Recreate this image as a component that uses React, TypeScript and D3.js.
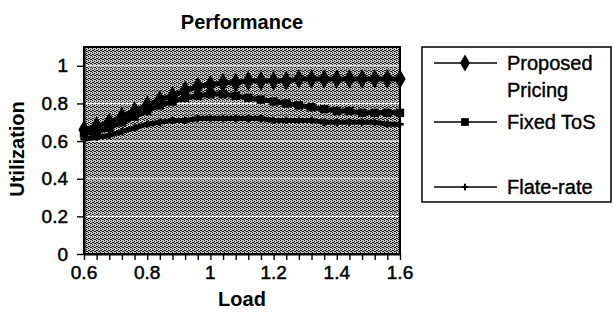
import React, { useRef, useEffect } from "react";
import * as d3 from "d3";

// loads on the category axis (every 0.04)
const loads = [
  0.6, 0.64, 0.68, 0.72, 0.76, 0.8, 0.84, 0.88, 0.92, 0.96, 1.0, 1.04, 1.08,
  1.12, 1.16, 1.2, 1.24, 1.28, 1.32, 1.36, 1.4, 1.44, 1.48, 1.52, 1.56, 1.6,
];
const proposedPricing = [
  0.66, 0.68, 0.7, 0.73, 0.76, 0.79, 0.82, 0.84, 0.87, 0.89, 0.9, 0.91, 0.91,
  0.92, 0.92, 0.92, 0.92, 0.93, 0.93, 0.93, 0.93, 0.93, 0.93, 0.93, 0.93, 0.93,
];
const fixedToS = [
  0.64, 0.65, 0.67, 0.7, 0.73, 0.76, 0.79, 0.81, 0.83, 0.84, 0.85, 0.85, 0.84,
  0.83, 0.82, 0.81, 0.8, 0.79, 0.78, 0.77, 0.76, 0.76, 0.75, 0.75, 0.75, 0.75,
];
const flateRate = [
  0.61, 0.62, 0.63, 0.65, 0.67, 0.69, 0.7, 0.71, 0.71, 0.72, 0.72, 0.72, 0.72,
  0.72, 0.72, 0.71, 0.71, 0.71, 0.71, 0.7, 0.7, 0.7, 0.7, 0.7, 0.69, 0.69,
];
const xTickLabels = [0.6, 0.8, 1, 1.2, 1.4, 1.6];
const yTickLabels = [0, 0.2, 0.4, 0.6, 0.8, 1];
const seriesNames = ["Proposed Pricing", "Fixed ToS", "Flate-rate"];

export default function App() {
  const svgRef = useRef<SVGSVGElement>(null);

  useEffect(() => {
    const svg = d3.select(svgRef.current);
    svg.selectAll("*").remove();

    const width = 613;
    const height = 315;
    const plot = { left: 84, right: 400, top: 47, bottom: 254 };
    const font = "Liberation Sans, Arial, sans-serif";

    svg.attr("width", width).attr("height", height)
      .style("position", "absolute").style("left", 0).style("top", 0)
      .style("background", "#fff");

    const x = d3.scaleLinear().domain([0.6, 1.6]).range([plot.left, plot.right]);
    const y = d3.scaleLinear().domain([0, 1.1]).range([plot.bottom, plot.top]);

    // halftone-ish fill for the plot area
    const defs = svg.append("defs");
    const pat = defs.append("pattern")
      .attr("id", "halftone")
      .attr("width", 4).attr("height", 4)
      .attr("patternUnits", "userSpaceOnUse");
    pat.append("rect").attr("width", 4).attr("height", 4).attr("fill", "#c4c4c4");
    [[0, 0], [2, 1], [1, 2], [3, 3], [2, 3], [0, 2]].forEach(([px, py]) =>
      pat.append("rect").attr("x", px).attr("y", py).attr("width", 1).attr("height", 1).attr("fill", "#1a1a1a"));

    svg.append("rect")
      .attr("x", plot.left).attr("y", plot.top)
      .attr("width", plot.right - plot.left).attr("height", plot.bottom - plot.top)
      .attr("fill", "url(#halftone)");

    // grid lines
    svg.append("g").selectAll("line")
      .data(yTickLabels.filter((d) => d > 0))
      .join("line")
      .attr("x1", plot.left).attr("x2", plot.right)
      .attr("y1", (d) => y(d)).attr("y2", (d) => y(d))
      .attr("stroke", "#f4f4f4").attr("stroke-width", 1.2);

    svg.append("rect")
      .attr("x", plot.left).attr("y", plot.top)
      .attr("width", plot.right - plot.left).attr("height", plot.bottom - plot.top)
      .attr("fill", "none").attr("stroke", "#000").attr("stroke-width", 2);

    // axes
    const xAxis = svg.append("g").attr("transform", `translate(0,${plot.bottom})`);
    xAxis.call(d3.axisBottom(x).tickValues(loads).tickSize(6).tickFormat(() => "").tickSizeOuter(0));
    xAxis.select(".domain").attr("stroke-width", 2);
    xAxis.selectAll(".tick line").attr("stroke-width", 1.4);
    xAxis.selectAll("text.lbl")
      .data(xTickLabels)
      .join("text")
      .attr("class", "lbl")
      .attr("x", (d) => x(d)).attr("y", 25)
      .attr("text-anchor", "middle")
      .attr("font-family", font).attr("font-size", 19)
      .attr("fill", "#000").attr("stroke", "#000").attr("stroke-width", 0.5)
      .text((d) => String(d));

    const yAxis = svg.append("g").attr("transform", `translate(${plot.left},0)`);
    yAxis.call(d3.axisLeft(y).tickValues(yTickLabels).tickSize(7).tickPadding(9)
      .tickFormat((d) => String(d)).tickSizeOuter(0));
    yAxis.select(".domain").attr("stroke-width", 2);
    yAxis.selectAll(".tick line").attr("stroke-width", 1.4);
    yAxis.selectAll(".tick text")
      .attr("font-family", font).attr("font-size", 19).attr("fill", "#000")
      .attr("stroke", "#000").attr("stroke-width", 0.5);

    // lines
    const seriesData = [proposedPricing, fixedToS, flateRate];
    const markers = ["diamond", "square", "star"];
    const line = d3.line<number>()
      .x((_, i) => x(loads[i]))
      .y((d) => y(d));

    const symbolFor = (m: string, big: boolean) =>
      m === "diamond"
        ? d3.symbol(d3.symbolDiamond, big ? 110 : 85)
        : m === "square"
        ? d3.symbol(d3.symbolSquare, big ? 70 : 60)
        : d3.symbol(d3.symbolCross, big ? 30 : 22);

    seriesData.forEach((vals, si) => {
      svg.append("path")
        .datum(vals)
        .attr("fill", "none")
        .attr("stroke", "#000")
        .attr("stroke-width", 5)
        .attr("d", line);
      svg.append("g").selectAll("path")
        .data(vals)
        .join("path")
        .attr("transform", (d, i) => `translate(${x(loads[i])},${y(d)})`)
        .attr("d", symbolFor(markers[si], true)())
        .attr("fill", "#000");
    });

    // titles
    svg.append("text")
      .attr("x", 242).attr("y", 29)
      .attr("text-anchor", "middle")
      .attr("font-family", font).attr("font-size", 20).attr("font-weight", "bold")
      .text("Performance");

    svg.append("text")
      .attr("x", 242).attr("y", 306)
      .attr("text-anchor", "middle")
      .attr("font-family", font).attr("font-size", 20).attr("font-weight", "bold")
      .text("Load");

    svg.append("text")
      .attr("transform", `translate(24,149) rotate(-90)`)
      .attr("text-anchor", "middle")
      .attr("font-family", font).attr("font-size", 20).attr("font-weight", "bold")
      .text("Utilization");

    // legend
    const lg = svg.append("g");
    lg.append("rect")
      .attr("x", 422).attr("y", 47).attr("width", 189).attr("height", 155)
      .attr("fill", "#fff").attr("stroke", "#000").attr("stroke-width", 1.5);

    const entryY = [63, 122, 187];
    seriesNames.forEach((name, si) => {
      const cy = entryY[si];
      lg.append("line")
        .attr("x1", 434).attr("x2", 497).attr("y1", cy).attr("y2", cy)
        .attr("stroke", "#000").attr("stroke-width", si === 2 ? 1.3 : 1.7);
      lg.append("path")
        .attr("transform", `translate(465,${cy})`)
        .attr("d", symbolFor(markers[si], false)())
        .attr("fill", "#000");
      const words = si === 0 ? ["Proposed", "Pricing"] : [name];
      words.forEach((w, wi) =>
        lg.append("text")
          .attr("x", 507).attr("y", cy + 7 + wi * 27)
          .attr("font-family", font).attr("font-size", 20)
          .attr("stroke", "#000").attr("stroke-width", 0.4)
          .text(w));
    });
  }, []);

  return <svg ref={svgRef} />;
}
